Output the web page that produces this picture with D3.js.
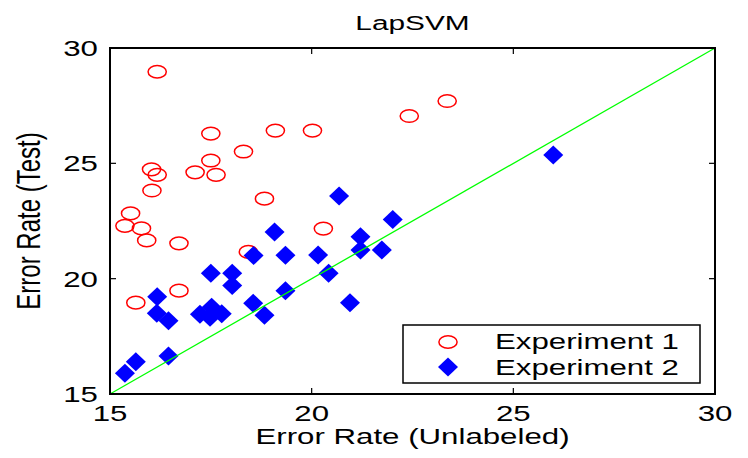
<!DOCTYPE html>
<html>
<head>
<meta charset="utf-8">
<script src="https://cdn.jsdelivr.net/npm/d3@7"></script>
<style>
  html, body { margin: 0; padding: 0; background: #fff; }
  svg { display: block; }
  text { font-family: "Liberation Sans", Arial, Helvetica, sans-serif; fill: #000; }
</style>
</head>
<body>
<svg id="chart" width="748" height="458"></svg>
<script>
// Experiment 1: error rate on unlabeled data (x) vs test data (y)
const exp1X = [16.17, 17.50, 19.10, 20.02, 22.42, 23.36, 18.31, 17.50, 16.03, 16.17,
               17.11, 17.63, 16.04, 18.83, 15.51, 15.37, 15.78, 15.91, 16.71, 20.29,
               18.43, 16.71, 15.64];
const exp1Y = [28.97, 26.29, 26.42, 26.42, 27.05, 27.70, 25.51, 25.12, 24.74, 24.50,
               24.61, 24.50, 23.82, 23.47, 22.83, 22.29, 22.18, 21.66, 21.53, 22.17,
               21.16, 19.48, 18.96];

// Experiment 2
const exp2X = [20.68, 22.01, 19.08, 21.21, 21.21, 21.74, 18.56, 19.35, 20.16, 20.42,
               17.50, 18.03, 18.03, 19.35, 20.95, 16.17, 18.55, 18.83, 17.23, 17.52,
               17.77, 17.48, 16.16, 16.45, 16.45, 15.64, 15.37, 25.99];
const exp2Y = [23.58, 22.57, 22.02, 21.82, 21.24, 21.24, 21.00, 21.01, 21.03, 20.23,
               20.23, 20.23, 19.70, 19.48, 18.96, 19.22, 18.93, 18.41, 18.46, 18.76,
               18.48, 18.33, 18.50, 18.18, 16.65, 16.40, 15.90, 25.36];

const xTicks = [15, 20, 25, 30];
const yTicks = [15, 20, 25, 30];
const xDomain = [15, 30];
const yDomain = [15, 30];
const seriesNames = ["Experiment 1", "Experiment 2"];

const titleText = "LapSVM";
const xLabelText = "Error Rate (Unlabeled)";
const yLabelText = "Error Rate (Test)";

// Layout
const plot = { left: 110, right: 715, top: 48, bottom: 394 };
const SX = 1.42;          // horizontal widening of the lettering
const RED = "#ff0000", BLUE = "#0000ff", GREEN = "#00ff00";

const svg = d3.select("#chart");
const x = d3.scaleLinear().domain(xDomain).range([plot.left, plot.right]);
const y = d3.scaleLinear().domain(yDomain).range([plot.bottom, plot.top]);

function wideText(g, px, py, str, size, anchor, rotate) {
  const t = g.append("g")
    .attr("transform", `translate(${px},${py}) scale(${SX},1)` + (rotate ? ` rotate(${rotate})` : ""));
  return t.append("text")
    .attr("text-anchor", anchor)
    .style("font-size", size + "px")
    .text(str);
}

// Markers
const diamondPath = (cx, cy, hw, hh) =>
  `M${cx},${cy - hh}L${cx + hw},${cy}L${cx},${cy + hh}L${cx - hw},${cy}Z`;

const marks = svg.append("g");
const exp1 = exp1X.map((v, i) => ({ x: v, y: exp1Y[i] }));
const exp2 = exp2X.map((v, i) => ({ x: v, y: exp2Y[i] }));

marks.selectAll("ellipse.e1").data(exp1).join("ellipse")
  .attr("class", "e1")
  .attr("cx", d => x(d.x)).attr("cy", d => y(d.y))
  .attr("rx", 9.1).attr("ry", 6.3)
  .attr("fill", "none").attr("stroke", RED).attr("stroke-width", 1.5);

marks.selectAll("path.e2").data(exp2).join("path")
  .attr("class", "e2")
  .attr("d", d => diamondPath(x(d.x), y(d.y), 10, 9.5))
  .attr("fill", BLUE);

// Diagonal reference line y = x
svg.append("line")
  .attr("x1", x(15)).attr("y1", y(15))
  .attr("x2", x(30)).attr("y2", y(30))
  .attr("stroke", GREEN).attr("stroke-width", 1.3);

// Axes box
const axesG = svg.append("g");
axesG.append("rect")
  .attr("x", plot.left).attr("y", plot.top)
  .attr("width", plot.right - plot.left).attr("height", plot.bottom - plot.top)
  .attr("fill", "none").attr("stroke", "#000").attr("stroke-width", 2);

// Ticks pointing inward on all four sides
const tickLen = 6;
xTicks.forEach(v => {
  axesG.append("line").attr("x1", x(v)).attr("x2", x(v))
    .attr("y1", plot.bottom).attr("y2", plot.bottom - tickLen)
    .attr("stroke", "#000").attr("stroke-width", 1.2);
  axesG.append("line").attr("x1", x(v)).attr("x2", x(v))
    .attr("y1", plot.top).attr("y2", plot.top + tickLen)
    .attr("stroke", "#000").attr("stroke-width", 1.2);
  wideText(axesG, x(v), 421, String(v), 22, "middle");
});
yTicks.forEach(v => {
  axesG.append("line").attr("x1", plot.left).attr("x2", plot.left + tickLen)
    .attr("y1", y(v)).attr("y2", y(v))
    .attr("stroke", "#000").attr("stroke-width", 1.2);
  axesG.append("line").attr("x1", plot.right).attr("x2", plot.right - tickLen)
    .attr("y1", y(v)).attr("y2", y(v))
    .attr("stroke", "#000").attr("stroke-width", 1.2);
  wideText(axesG, 98, y(v) + 8, String(v), 22, "end");
});

// Title and axis labels
wideText(svg, (plot.left + plot.right) / 2, 30, titleText, 21, "middle");
wideText(svg, (plot.left + plot.right) / 2, 444, xLabelText, 22, "middle");
wideText(svg, 40, (plot.top + plot.bottom) / 2, yLabelText, 24, "middle", -90);

// Legend
const leg = svg.append("g");
leg.append("rect")
  .attr("x", 403).attr("y", 325).attr("width", 297).attr("height", 58)
  .attr("fill", "#fff").attr("stroke", "#000").attr("stroke-width", 1.5);
leg.append("ellipse")
  .attr("cx", 448).attr("cy", 342).attr("rx", 9.1).attr("ry", 6.3)
  .attr("fill", "none").attr("stroke", RED).attr("stroke-width", 1.5);
leg.append("path")
  .attr("d", diamondPath(448, 367, 10, 9.5)).attr("fill", BLUE);
wideText(leg, 495, 349, seriesNames[0], 22, "start");
wideText(leg, 495, 375, seriesNames[1], 22, "start");
</script>
</body>
</html>
